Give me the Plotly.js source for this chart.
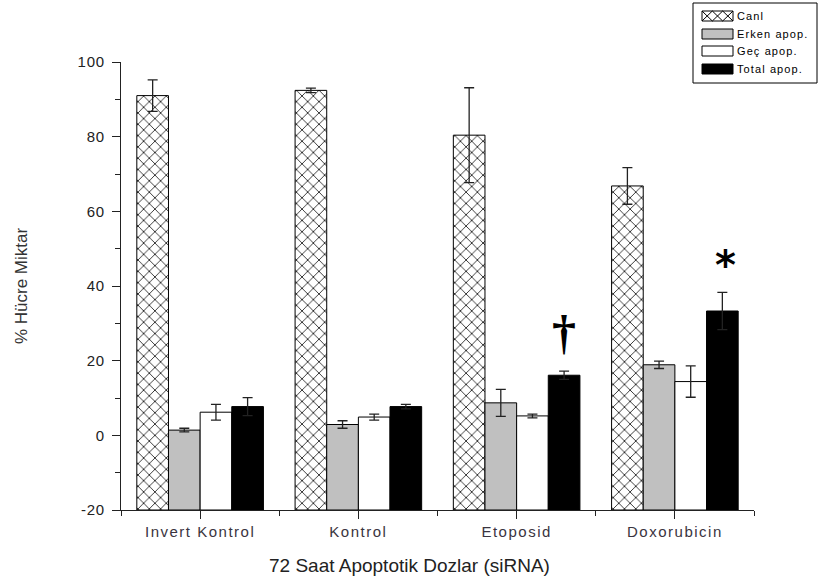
<!DOCTYPE html>
<html>
<head>
<meta charset="utf-8">
<script src="https://cdn.plot.ly/plotly-3.0.1.min.js"></script>
<style>
  html, body { margin: 0; padding: 0; background: #fff; }
  #chart { width: 819px; height: 581px; }
  #chart .xtick text { letter-spacing: 1.5px; }
  #chart .ytick text { letter-spacing: 0.8px; }
  #chart g.annotation.legend-label text { letter-spacing: 1.1px; }
</style>
</head>
<body>
<div id="chart"></div>
<script>
// Groups on the x axis
const categories = ['Invert Kontrol', 'Kontrol', 'Etoposid', 'Doxorubicin'];

// Percent of cells per group (mean) and their error (SD)
const canli      = [91.0, 92.4, 80.4, 66.8];
const canliErr   = [4.2, 0.6, 12.7, 4.9];
const erken      = [1.4, 2.9, 8.7, 18.9];
const erkenErr   = [0.5, 1.0, 3.6, 1.0];
const gec        = [6.2, 4.9, 5.2, 14.4];
const gecErr     = [2.1, 0.8, 0.5, 4.2];
const total      = [7.7, 7.7, 16.1, 33.3];
const totalErr   = [2.4, 0.6, 1.1, 5.0];

const seriesNames = ['Canl', 'Erken apop.', 'Geç apop.', 'Total apop.'];

// Value-axis ticks (plain hyphen for the negative label)
const yTickVals = [-20, 0, 20, 40, 60, 80, 100];
const yTickText = ['-20', '0', '20', '40', '60', '80', '100'];

const xTitle = '72 Saat Apoptotik Dozlar (siRNA)';
const yTitle = '% Hücre Miktar';

// Bars rise from the bottom of the value axis
const yMin = -20, yMax = 100;
const catIdx = categories.map((_, i) => i);

const FONT = 'Liberation Sans, Arial, sans-serif';
const INK = '#222';

function barTrace(name, vals, errs, marker) {
  return {
    type: 'bar',
    name: name,
    x: catIdx,
    base: yMin,
    y: vals.map(v => v - yMin),
    marker: Object.assign({ line: { color: '#000', width: 1 } }, marker),
    error_y: { type: 'data', array: errs, visible: true, color: INK, thickness: 1.3, width: 5 },
    showlegend: false,
    hoverinfo: 'skip'
  };
}

const traces = [
  barTrace(seriesNames[0], canli, canliErr, {
    color: '#fff',
    pattern: { shape: 'x', size: 8, solidity: 0.18, fgcolor: '#000', bgcolor: '#fff' }
  }),
  barTrace(seriesNames[1], erken, erkenErr, { color: '#c0c0c0' }),
  barTrace(seriesNames[2], gec, gecErr, { color: '#ffffff' }),
  barTrace(seriesNames[3], total, totalErr, { color: '#000000' })
];

// Plot area geometry (pixels)
const W = 819, H = 581;
const M = { l: 121, r: 65, t: 62, b: 71 };
const PW = W - M.l - M.r, PH = H - M.t - M.b;
const px = X => (X - M.l) / PW;          // pixel x -> paper x
const py = Y => (H - M.b - Y) / PH;      // pixel y -> paper y

// Legend box drawn with shapes and annotations
const legendRows = [16, 34, 51, 69];
const swX0 = 702, swX1 = 733, swH = 10;
const shapes = [
  { type: 'rect', xref: 'paper', yref: 'paper', x0: px(693), x1: px(817), y0: py(83), y1: py(3),
    line: { color: '#000', width: 1 }, fillcolor: 'rgba(0,0,0,0)' }
];
const swatchFill = ['#fff', '#c0c0c0', '#fff', '#000'];
legendRows.forEach((ry, i) => {
  shapes.push({ type: 'rect', xref: 'paper', yref: 'paper',
    x0: px(swX0), x1: px(swX1), y0: py(ry + swH / 2), y1: py(ry - swH / 2),
    line: { color: '#000', width: 1 }, fillcolor: swatchFill[i] });
});
// cross-hatch inside the first swatch
(function () {
  const n = 3, cw = (swX1 - swX0) / n;
  const top = legendRows[0] - swH / 2, bot = legendRows[0] + swH / 2;
  let p = '';
  for (let k = 0; k < n; k++) {
    const a = swX0 + k * cw, b = a + cw;
    p += `M${px(a)},${py(top)} L${px(b)},${py(bot)} M${px(a)},${py(bot)} L${px(b)},${py(top)} `;
  }
  shapes.push({ type: 'path', xref: 'paper', yref: 'paper', path: p, line: { color: '#000', width: 1 } });
})();

const annotations = legendRows.map((ry, i) => ({
  xref: 'paper', yref: 'paper', x: px(735), y: py(ry), xanchor: 'left', yanchor: 'middle', align: 'left',
  text: seriesNames[i], showarrow: false, font: { family: FONT, size: 11, color: '#000' }
}));

// Significance marks over the total-apoptosis bars
annotations.push({
  x: 2.3, y: 27.5, xref: 'x', yref: 'y', text: '<b>†</b>', showarrow: false,
  font: { family: 'Liberation Serif, serif', size: 48, color: '#000' }, yanchor: 'middle'
});
annotations.push({
  x: 3.32, y: 45.5, xref: 'x', yref: 'y', text: '<b>*</b>', showarrow: false,
  font: { family: 'DejaVu Sans, sans-serif', size: 40, color: '#000' }, yanchor: 'middle'
});

// x-axis title, centred on the whole figure
annotations.push({
  xref: 'paper', yref: 'paper', x: px(W / 2), y: py(565), xanchor: 'center', yanchor: 'middle',
  text: xTitle, showarrow: false, font: { family: FONT, size: 19, color: '#222' }
});

const layout = {
  width: W, height: H,
  margin: M,
  paper_bgcolor: '#fff', plot_bgcolor: '#fff',
  barmode: 'group', bargap: 0.2, bargroupgap: 0,
  font: { family: FONT, color: INK },
  xaxis: {
    range: [-0.5, 3.5], tickmode: 'array', tickvals: catIdx, ticktext: categories,
    ticks: 'outside', ticklen: 8, tickwidth: 1, tickcolor: INK,
    minor: { tick0: 0.5, dtick: 1, ticks: 'outside', ticklen: 5, tickwidth: 1, tickcolor: INK, showgrid: false },
    showline: true, linecolor: INK, linewidth: 1, showgrid: false, zeroline: false,
    tickfont: { family: FONT, size: 15, color: '#3a3440' },
    automargin: false, fixedrange: true
  },
  yaxis: {
    range: [yMin, yMax], tickmode: 'array', tickvals: yTickVals, ticktext: yTickText,
    ticks: 'outside', ticklen: 8, tickwidth: 1, tickcolor: INK, ticklabelstandoff: 4,
    minor: { tick0: 0, dtick: 10, ticks: 'outside', ticklen: 5, tickwidth: 1, tickcolor: INK, showgrid: false },
    showline: true, linecolor: INK, linewidth: 1, showgrid: false, zeroline: false,
    tickfont: { family: FONT, size: 15, color: '#222' },
    title: { text: yTitle, font: { family: FONT, size: 17, color: '#333' }, standoff: 48 },
    automargin: false, fixedrange: true
  },
  shapes: shapes,
  annotations: annotations,
  showlegend: false
};

Plotly.newPlot('chart', traces, layout, { displayModeBar: false, staticPlot: true }).then(gd => {
  // tag legend labels so their letter spacing can be styled
  gd.querySelectorAll('g.annotation').forEach((g, i) => {
    if (i < legendRows.length) g.classList.add('legend-label');
  });
});
</script>
</body>
</html>
